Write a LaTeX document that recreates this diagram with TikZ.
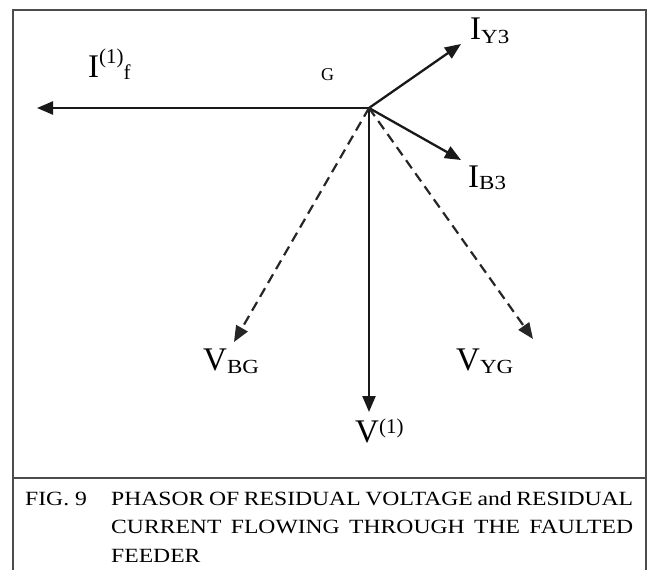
\documentclass[tikz,border=0pt]{standalone}
\usepackage{fontspec}
\setmainfont{Liberation Serif}
\newfontfamily\capfont[FakeStretch=1.17]{Liberation Serif}
\newfontfamily\subfont[FakeStretch=1.15]{Liberation Serif}
\usetikzlibrary{arrows.meta}
\newcommand\lblfont{\fontsize{33}{33}\selectfont}
\newcommand\subfnt{\subfont\fontsize{20}{20}\selectfont}
\newcommand\supfnt{\fontsize{21}{21}\selectfont}
\tikzset{
  frameline/.style={draw=black!70, line width=2pt},
  arr/.style={draw=black!90, line width=2.3pt, -{Triangle[length=16pt,width=13pt]}},
  darr/.style={draw=black!85, line width=2.2pt, dash pattern=on 10pt off 6pt, -{Triangle[length=16pt,width=13pt]}},
  lbl/.style={inner sep=0pt, anchor=base west, text=black, font=\lblfont},
  captxt/.style={inner sep=0pt, anchor=base west, text=black, font=\capfont\fontsize{20.2}{20.2}\selectfont}
}
\begin{document}
\begin{tikzpicture}[x=1pt,y=-1pt]
\useasboundingbox (0,0) rectangle (648,570);
% frame
\draw[frameline] (13,570) -- (13,10) -- (646,10) -- (646,570);
\draw[frameline] (13,478) -- (646,478);
% phasor points
\coordinate (O) at (369,108);
\coordinate (If) at (37,108);
\coordinate (IY) at (461,44);
\coordinate (IB) at (461,160);
\coordinate (VBG) at (234,342);
\coordinate (V1) at (369,412);
\coordinate (VYG) at (533,339);
% phasors
\draw[arr] (O) -- (If);
\draw[arr] (O) -- (IY);
\draw[arr] (O) -- (IB);
\draw[arr] (O) -- (V1);
\draw[darr] (O) -- (VBG);
\draw[darr] (O) -- (VYG);
% labels
\node[lbl] (lIf) at (88,77) {I\raisebox{14pt}{\supfnt(1)}\raisebox{-2pt}{\supfnt f}};
\node[lbl, font=\fontsize{18}{18}\selectfont] (lG) at (321,80) {G};
\node[lbl] (lIY) at (470,39) {I\raisebox{-4pt}{\subfnt Y3}};
\node[lbl] (lIB) at (468,187) {I\raisebox{-2pt}{\subfnt B3}};
\node[lbl] (lVBG) at (203,370) {V\raisebox{-3pt}{\subfnt BG}};
\node[lbl] (lVYG) at (456,370) {V\raisebox{-3pt}{\subfnt YG}};
\node[lbl] (lV1) at (355,442) {V\raisebox{9pt}{\supfnt(1)}};
% caption
\node[captxt] (fig) at (25,505) {FIG. 9};
\node[captxt] (c1) at (111,505) {\makebox[522pt][s]{PHASOR OF RESIDUAL VOLTAGE and RESIDUAL}};
\node[captxt] (c2) at (111,533) {\makebox[522pt][s]{CURRENT FLOWING THROUGH THE FAULTED}};
\node[captxt] (c3) at (111,562) {FEEDER};
\end{tikzpicture}
\end{document}
